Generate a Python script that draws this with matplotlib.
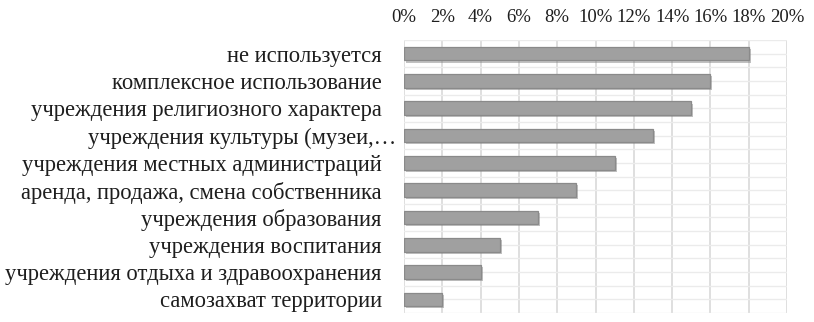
import matplotlib.pyplot as plt
import matplotlib.patheffects as pe
from matplotlib.transforms import ScaledTranslation
from matplotlib.ticker import FuncFormatter

# categories top to bottom
categories = [
    "не используется",
    "комплексное использование",
    "учреждения религиозного характера",
    "учреждения культуры (музеи,…",
    "учреждения местных администраций",
    "аренда, продажа, смена собственника",
    "учреждения образования",
    "учреждения воспитания",
    "учреждения отдыха и здравоохранения",
    "самозахват территории",
]
shares = [18, 16, 15, 13, 11, 9, 7, 5, 4, 2]
x_ticks = [0, 2, 4, 6, 8, 10, 12, 14, 16, 18, 20]

plt.rcParams['font.family'] = ['Liberation Serif', 'DejaVu Serif']

fig = plt.figure(figsize=(8.14, 3.22), dpi=100)
ax = fig.add_axes([404 / 814, 9 / 322, 383 / 814, 273 / 322])

n = len(categories)
ypos = list(range(n))
ax.barh(ypos, shares, height=0.5, color='#a0a0a0', edgecolor='#8a8a8a',
        linewidth=0.9, zorder=3,
        path_effects=[pe.SimplePatchShadow(offset=(1.5, -1.5), shadow_rgbFace='#777777', alpha=0.45),
                      pe.Normal()])

ax.set_xlim(0, 20)
ax.set_ylim(n - 0.5, -0.5)
ax.set_xticks(x_ticks)
ax.xaxis.set_major_formatter(FuncFormatter(lambda v, p: f"{v:.0f}%"))
ax.xaxis.tick_top()
ax.set_yticks(ypos)
ax.set_yticklabels(categories)
ax.tick_params(axis='both', length=0, colors='#1e1e1e')
ax.tick_params(axis='x', pad=10, labelsize=13.5)
ax.tick_params(axis='y', pad=16, labelsize=16.3)

# the truncated label sits a bit further right, as in the source
lbl = ax.get_yticklabels()[3]
lbl.set_transform(lbl.get_transform() + ScaledTranslation(14 / 100, 0, fig.dpi_scale_trans))

# grid
for xv in x_ticks:
    ax.axvline(xv, color='#d9d9d9', lw=1.2, zorder=1)
k = -0.5
while k <= n - 0.5 + 1e-9:
    ax.axhline(k, color='#ebebeb', lw=1.0, zorder=1)
    k += 0.5

for s in ax.spines.values():
    s.set_visible(False)

plt.savefig('out.png', dpi=100)
plt.close()
